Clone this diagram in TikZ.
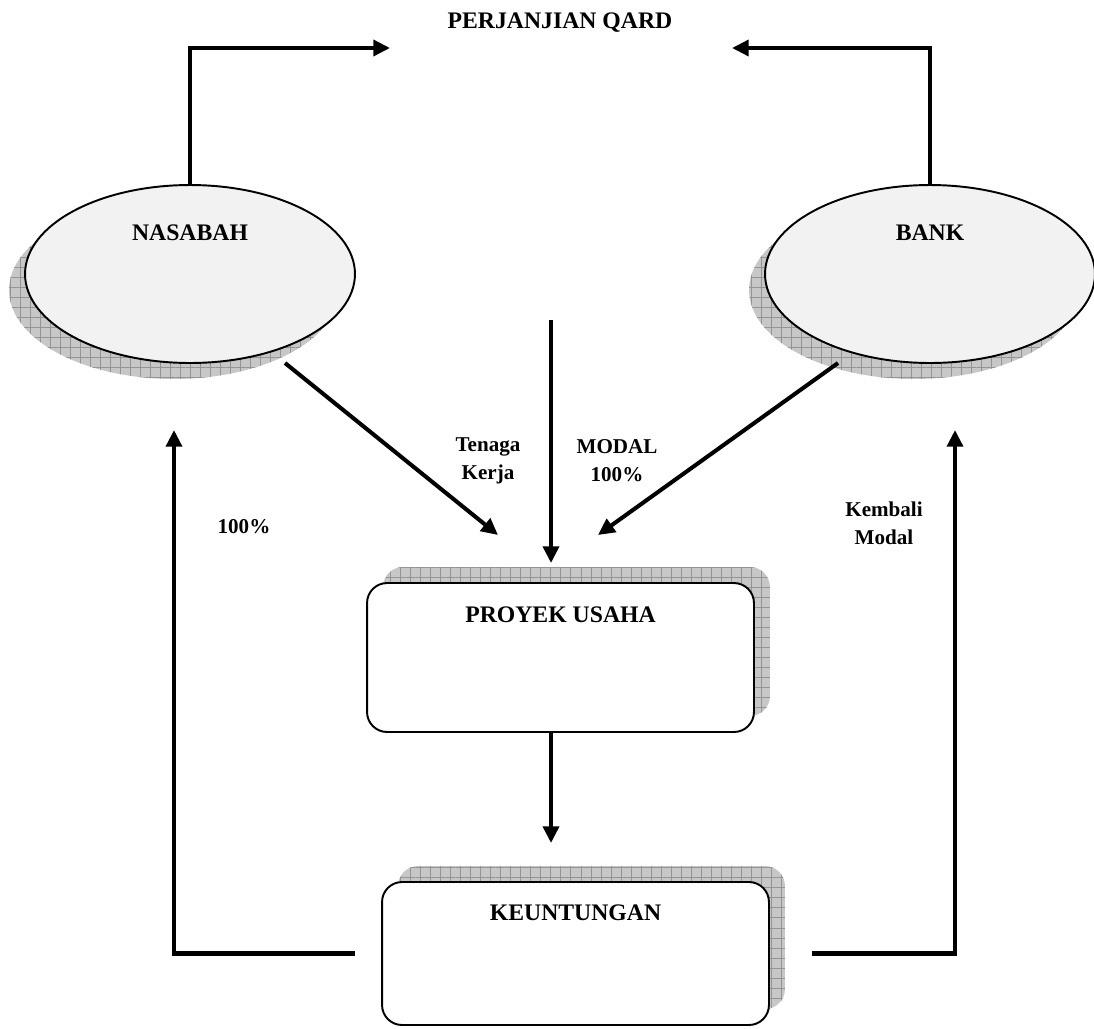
\documentclass[tikz,border=0pt]{standalone}
\usepackage{fontspec}
\setmainfont{Liberation Serif}
\usetikzlibrary{arrows.meta,patterns.meta,shapes.geometric,backgrounds}
\tikzset{
    EL1/.style ={ellipse, minimum width=6.6cm, minimum height=3.56cm, inner sep=0pt, outer sep=0pt, draw, line width=1.1pt, fill=black!5},
    RB1/.style ={rectangle, rounded corners=0.4cm, minimum width=7.74cm, inner sep=0pt, outer sep=0pt, draw, line width=1.1pt, fill=white},
    SH/.style ={fill=black!22,
        postaction={pattern={Lines[angle=0,distance=5.7pt,line width=0.4pt]}, pattern color=black!42},
        postaction={pattern={Lines[angle=90,distance=5.7pt,line width=0.4pt]}, pattern color=black!42}},
    AR/.style ={line width=2.3pt, -{Triangle[length=9.5pt,width=9pt]}},
    TT1/.style ={font=\fontsize{13.5}{16}\selectfont\bfseries},
    TT2/.style ={font=\fontsize{12}{16}\selectfont\bfseries, align=center}}

\begin{document}
\begin{tikzpicture}[x=0.02cm,y=-0.02cm]
    \useasboundingbox (0,0) rectangle (1094,1028);
    % pihak
    \node[EL1] (nasabah) at (190,274) {};
    \node[EL1] (bank) at (930,274) {};
    \node[TT1] (nasabahT) at ([yshift=0.82cm]nasabah.center) {NASABAH};
    \node[TT1] (bankT) at ([yshift=0.82cm]bank.center) {BANK};
    % akad
    \node[TT1] (qard) at (560,23) {PERJANJIAN QARD};
    \coordinate (qardL) at (390,48);
    \coordinate (qardR) at (732,48);
    % usaha dan hasil
    \node[RB1, minimum height=2.98cm] (proyek) at (560.5,657.5) {};
    \node[RB1, minimum height=2.86cm] (untung) at (575.5,953.5) {};
    \node[TT1] (proyekT) at ([yshift=0.85cm]proyek.center) {PROYEK USAHA};
    \node[TT1] (untungT) at ([yshift=0.81cm]untung.center) {KEUNTUNGAN};
    \begin{scope}[on background layer]
        \path[SH] ([shift={(-16,16)}]nasabah.center) ellipse [x radius=3.3cm, y radius=1.78cm];
        \path[SH] ([shift={(-16,16)}]bank.center) ellipse [x radius=3.3cm, y radius=1.78cm];
        \path[SH, rounded corners=0.4cm] ([shift={(16,-16)}]proyek.south west) rectangle ([shift={(16,-16)}]proyek.north east);
        \path[SH, rounded corners=0.4cm] ([shift={(16,-16)}]untung.south west) rectangle ([shift={(16,-16)}]untung.north east);
    \end{scope}
    % aliran
    \coordinate (modaltop) at (551,320);
    \coordinate (tkstart) at (285,363);
    \coordinate (tkend) at (498,535);
    \coordinate (bkstart) at (838,363);
    \coordinate (bkend) at (598,535);
    \coordinate (ret100) at (174,430);
    \coordinate (retbank) at (955,430);
    \draw[AR] (nasabah.north) |- (qardL);
    \draw[AR] (bank.north) |- (qardR);
    \draw[AR] (tkstart) -- (tkend);
    \draw[AR] (bkstart) -- (bkend);
    \draw[AR, shorten >=0.4cm] (modaltop) -- (modaltop |- proyek.north);
    \draw[AR, shorten >=0.78cm] (modaltop |- proyek.south) -- (modaltop |- untung.north);
    \draw[AR, shorten <=0.54cm] (untung.west) -| (ret100);
    \draw[AR, shorten <=0.86cm] (untung.east) -| (retbank);
    % keterangan
    \node[TT2] (tenaga) at (488,461) {Tenaga\\Kerja};
    \node[TT2] (modal) at (617,461) {MODAL\\100\%};
    \node[TT2] (persen) at (244,527) {100\%};
    \node[TT2] (kembali) at (884,523) {Kembali\\Modal};
\end{tikzpicture}
\end{document}
